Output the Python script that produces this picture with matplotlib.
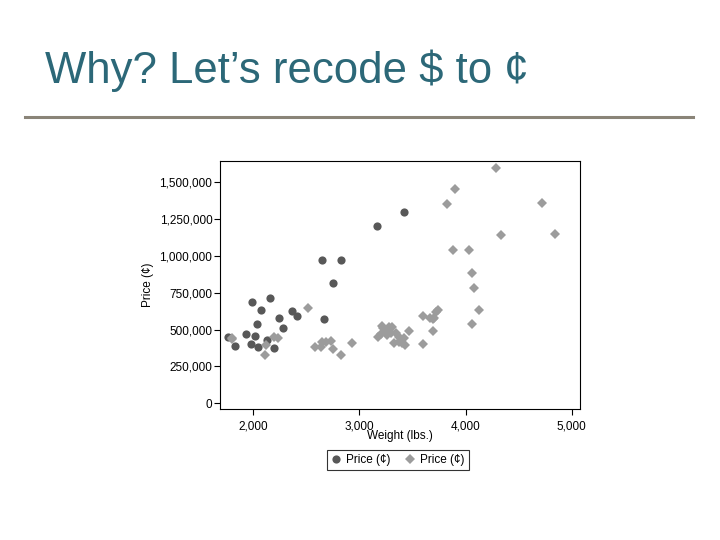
import matplotlib
matplotlib.use("Agg")
import matplotlib.pyplot as plt
from matplotlib.lines import Line2D
from matplotlib.ticker import FuncFormatter

plt.rcParams['font.family'] = ['Liberation Sans', 'DejaVu Sans']

# Foreign cars (dark circles): weight (lbs.), price in cents
foreign_weight = [2830, 3170, 2650, 2370, 2020, 2280, 2750, 2130, 2240, 1760,
                  1980, 3420, 1830, 2050, 2410, 2200, 2670, 1930, 2040, 2160,
                  1990, 2070]
foreign_price = [969000, 1199500, 973500, 622900, 458900, 507900, 812900, 429600,
                 579900, 449900, 399500, 1299000, 389500, 379800, 589900, 374800,
                 571900, 469700, 539700, 714000, 685000, 629500]

# Domestic cars (light diamonds)
domestic_weight = [2930, 3350, 2640, 3250, 4080, 3670, 2230, 3280, 3880, 3400,
                   4330, 3900, 4290, 2110, 3690, 3180, 3220, 2750, 3430, 2120,
                   3600, 3600, 3740, 1800, 2650, 4840, 4720, 3830, 2580, 4060,
                   3720, 3370, 4130, 2830, 4060, 3310, 3300, 3690, 3370, 2730,
                   4030, 3260, 1800, 2200, 2520, 3330, 3700, 3470, 3210, 3200,
                   3420, 2690]
domestic_price = [409900, 474900, 379900, 481600, 782700, 578800, 445300, 518900,
                  1037200, 408200, 1138500, 1450000, 1590600, 329900, 570500,
                  450400, 510400, 366700, 395500, 398400, 401000, 588600, 634200,
                  438900, 418700, 1149700, 1359400, 1346600, 382900, 537900,
                  616500, 451600, 630300, 329100, 881400, 517200, 473300, 489000,
                  418100, 419500, 1037100, 464700, 442500, 448200, 648600, 406000,
                  579800, 493400, 522200, 472300, 442400, 417200]

x_ticks = [2000, 3000, 4000, 5000]
y_ticks = [0, 250000, 500000, 750000, 1000000, 1250000, 1500000]
legend_labels = ['Price (¢)', 'Price (¢)']

fig = plt.figure(figsize=(7.2, 5.4), dpi=100)
fig.patch.set_facecolor('white')

fig.text(45/720, 1 - 83.5/540, 'Why? Let’s recode $ to ¢', fontsize=31.5,
         color='#2C6878', va='baseline', ha='left')
fig.add_artist(Line2D([25/720, 693/720], [1 - 116.5/540]*2, lw=2.2,
                      color='#8A8478', transform=fig.transFigure))

ax = fig.add_axes([220/720, 1 - 409/540, 360/720, 248/540])
ax.plot(foreign_weight, foreign_price, 'o', color='#585858', markersize=5.9,
        markeredgewidth=0, label=legend_labels[0])
ax.plot(domestic_weight, domestic_price, 'D', color='#9C9C9C', markersize=5.6,
        markeredgewidth=0, label=legend_labels[1])

ax.set_xlim(1688, 5078)
ax.set_ylim(-38000, 1641000)
ax.set_xticks(x_ticks)
ax.set_yticks(y_ticks)
ax.xaxis.set_major_formatter(FuncFormatter(lambda v, p: f'{int(v):,}'))
ax.yaxis.set_major_formatter(FuncFormatter(lambda v, p: f'{int(v):,}'))
ax.tick_params(axis='both', direction='out', length=4, width=0.8,
               labelsize=8.5, colors='black', pad=1.5)
ax.tick_params(axis='x', pad=4)
for s in ax.spines.values():
    s.set_linewidth(0.8)
    s.set_color('black')

fig.text(400/720, 1 - 436/540, 'Weight (lbs.)', fontsize=8.5, ha='center', va='center')
fig.text(148/720, 1 - 285/540, 'Price (¢)', fontsize=8.5, ha='center', va='center',
         rotation=90)

leg = fig.legend(loc='center', bbox_to_anchor=(398/720, 1 - 460/540), ncol=2,
                 fontsize=8.5, frameon=True, fancybox=False, edgecolor='black',
                 handlelength=0.8, handletextpad=0.5, columnspacing=1.2,
                 borderpad=0.35, borderaxespad=0)
leg.get_frame().set_linewidth(0.8)

fig.savefig('out.png', dpi=100, facecolor='white')
